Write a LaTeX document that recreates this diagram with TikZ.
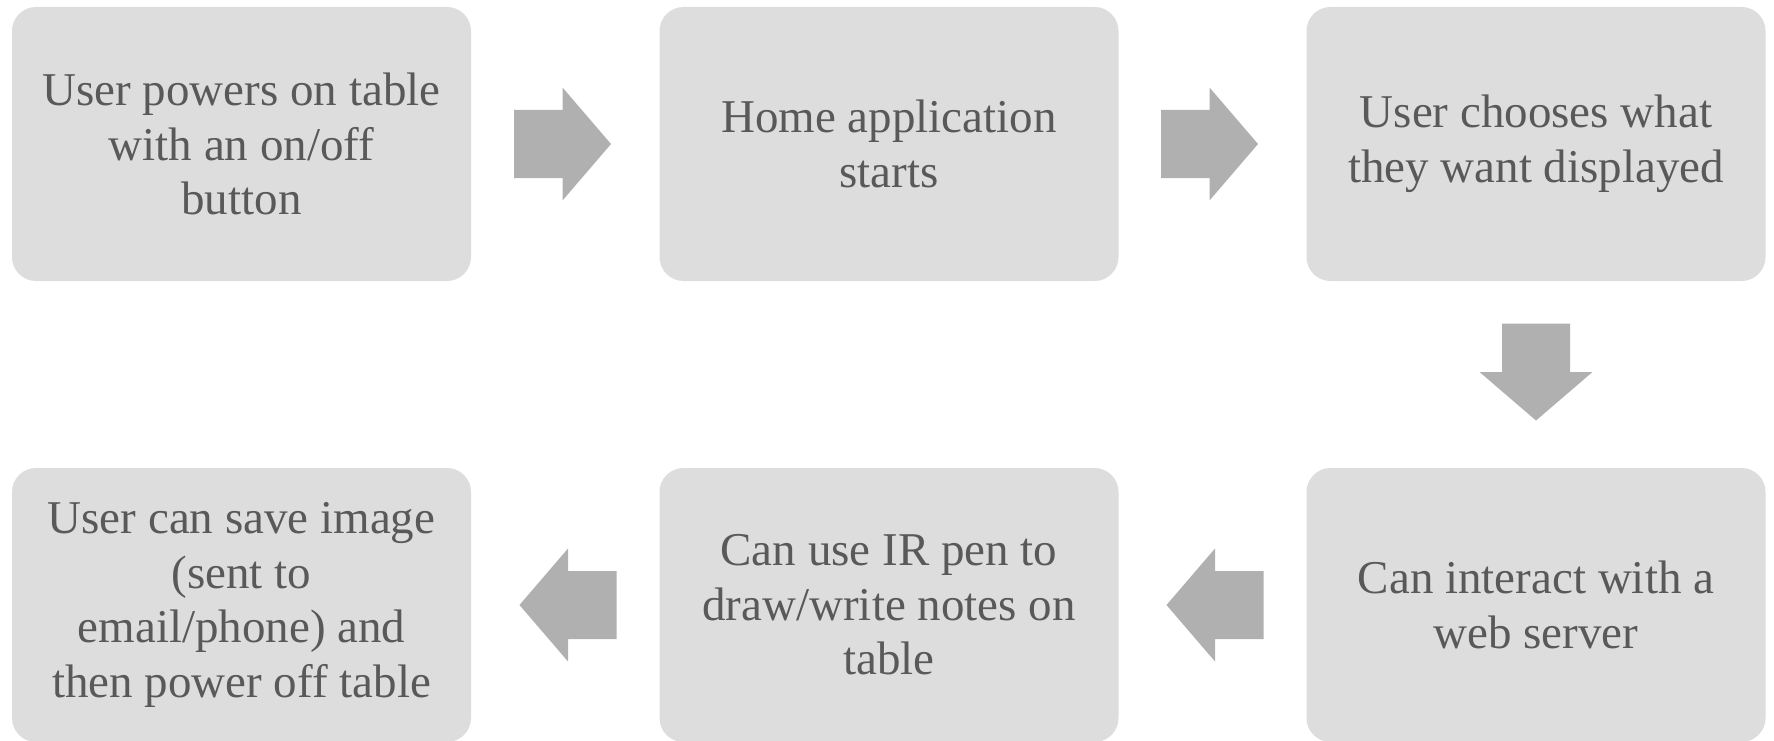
\documentclass[tikz,border=0pt]{standalone}
\usepackage{fontspec}
\setmainfont{Liberation Serif}
\definecolor{boxc}{HTML}{DDDDDD}
\definecolor{arrc}{HTML}{B0B0B0}
\definecolor{txtc}{HTML}{595959}
\tikzset{
  stepbox/.style={fill=boxc, draw=none, rounded corners=24pt, minimum width=459pt, minimum height=274pt,
    text=txtc, align=center, font=\fontsize{47}{54.5}\selectfont, inner sep=0pt},
  barrow/.pic={\fill[arrc] (-48.5,-34) -- (0,-34) -- (0,-56.5) -- (48.5,0) -- (0,56.5) -- (0,34) -- (-48.5,34) -- cycle;}
}
\begin{document}
\begin{tikzpicture}[x=1pt,y=1pt]
\useasboundingbox[fill=white] (0,0) rectangle (1774,-741);
\node[stepbox] (b1) at (241.5,-144) {User powers on table\\with an on/off\\button};
\node[stepbox] (b2) at (889,-144) {Home application\\starts};
\node[stepbox] (b3) at (1536,-144) {User chooses what\\they want displayed};
\node[stepbox] (b4) at (1536,-605) {Can interact with a\\web server};
\node[stepbox] (b5) at (889,-605) {Can use IR pen to\\draw/write notes on\\table};
\node[stepbox] (b6) at (241.5,-605) {User can save image\\(sent to\\email/phone) and\\then power off table};
\pic at (562.5,-144) {barrow};
\pic at (1209.5,-144) {barrow};
\pic[rotate=-90] at (1536,-372) {barrow};
\pic[rotate=180] at (1215,-605) {barrow};
\pic[rotate=180] at (568,-605) {barrow};
\end{tikzpicture}
\end{document}
